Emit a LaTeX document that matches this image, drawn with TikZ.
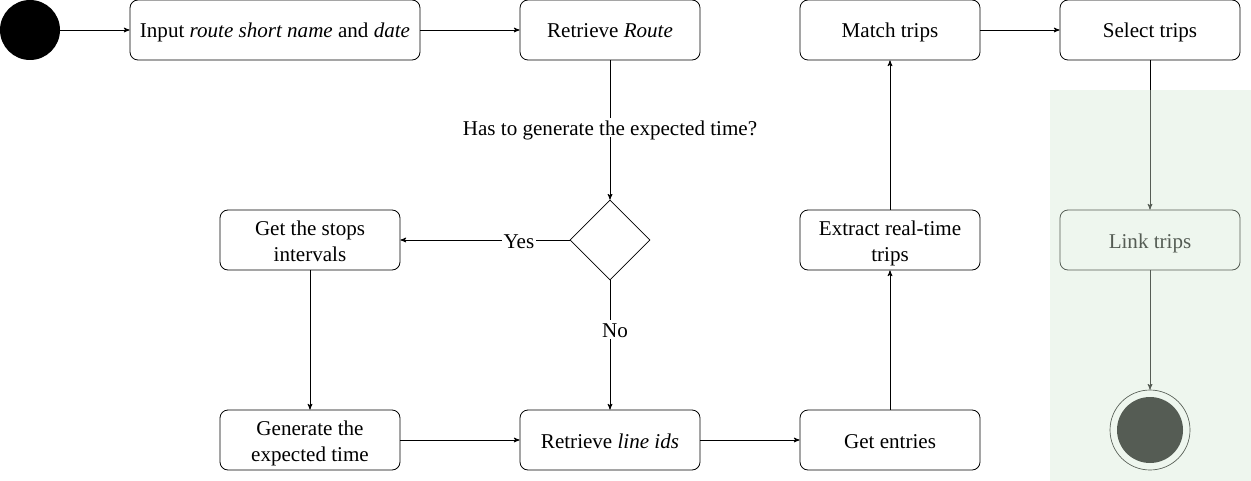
\documentclass[tikz,border=0pt]{standalone}
\usepackage{fontspec}
\setmainfont{Liberation Serif}
\usetikzlibrary{arrows}
\usetikzlibrary{shapes.geometric}

\definecolor{swimgreen}{HTML}{D5E8D4}

\begin{document}
\begin{tikzpicture}[
    x=0.75pt, y=-0.75pt,
    >=stealth',
    every node/.style={font=\fontsize{15.8}{19.5}\selectfont},
    activity/.style={draw, line width=0.6pt, rounded corners=6pt, minimum width=135pt, minimum height=45pt, align=center, inner sep=2pt},
    oneline/.style={text height=12pt, text depth=0pt},
    twoline/.style={text height=31.5pt, text depth=0pt},
    decision/.style={draw, diamond, line width=0.5pt, minimum width=60pt, minimum height=60pt, inner sep=0pt},
    flow/.style={->, line width=0.6pt},
    guard/.style={fill=white, inner sep=1pt}
    ]
    \useasboundingbox (0,0) rectangle (1251,481);

    \node [circle, fill=black, minimum size=45pt, inner sep=0pt] (initial) at (30,30) {};
    \node [activity, oneline, minimum width=217.5pt] (input) at (275,30) {Input \textit{route short name} and \textit{date}};
    \node [activity, oneline] (route) at (610,30) {Retrieve \textit{Route}};
    \node [activity, oneline] (match) at (890,30) {Match trips};
    \node [activity, oneline] (select) at (1150,30) {Select trips};
    \node [decision] (expected) at (610,240) {};
    \node [activity, twoline] (stops) at (310,240) {Get the stops\\intervals};
    \node [activity, twoline] (extract) at (890,240) {Extract real-time\\trips};
    \node [activity, oneline] (link) at (1150,240) {Link trips};
    \node [activity, twoline] (generate) at (310,440) {Generate the\\expected time};
    \node [activity, oneline] (lineids) at (610,440) {Retrieve \textit{line ids}};
    \node [activity, oneline] (entries) at (890,440) {Get entries};
    \node [circle, draw, line width=0.5pt, minimum size=60pt, inner sep=0pt] (final) at (1150,430) {};
    \fill (final.center) circle (33);

    \draw [flow] (initial) -- (input);
    \draw [flow] (input) -- (route);
    \draw [flow] (route) -- node[guard, oneline, pos=0.48]{Has to generate the expected time?} (expected);
    \draw [flow] (expected) -- node[guard, oneline, pos=0.3]{Yes} (stops);
    \draw [flow] (expected) -- node[guard, oneline, pos=0.38, xshift=3.75pt]{No} (lineids);
    \draw [flow] (stops) -- (generate);
    \draw [flow] (generate) -- (lineids);
    \draw [flow] (lineids) -- (entries);
    \draw [flow] (entries) -- (extract);
    \draw [flow] (extract) -- (match);
    \draw [flow] (match) -- (select);
    \draw [flow] (select) -- (link);
    \draw [flow] (link) -- (final);

    \fill [swimgreen, fill opacity=0.4] (1050,90) rectangle (1251,481);
\end{tikzpicture}
\end{document}
